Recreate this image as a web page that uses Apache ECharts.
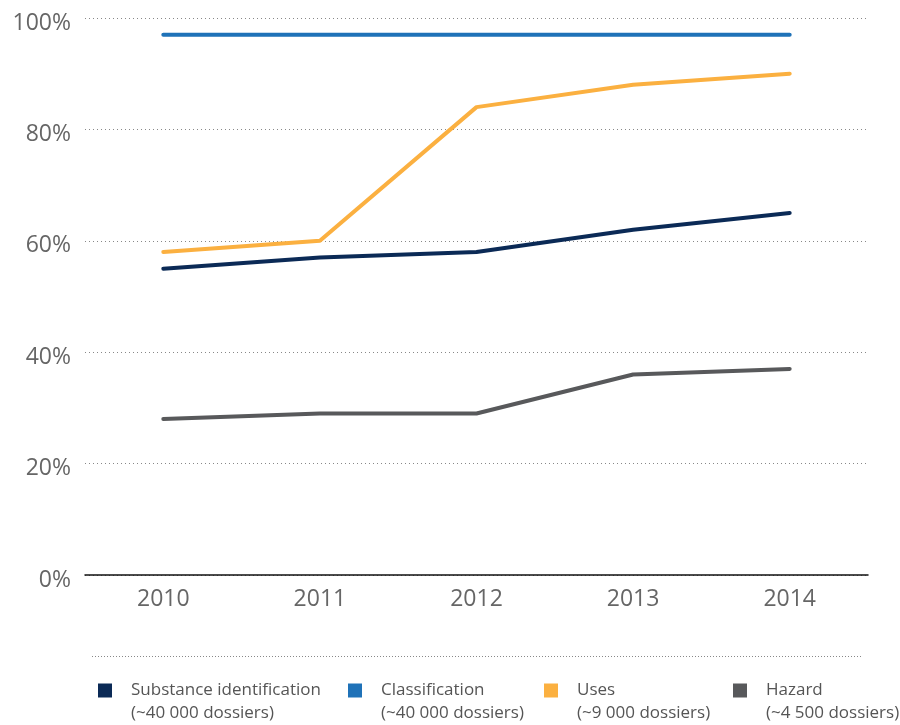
<!DOCTYPE html>
<html>
<head>
<meta charset="utf-8">
<script src="https://cdn.jsdelivr.net/npm/echarts@6/dist/echarts.min.js"></script>
<style>
html,body{margin:0;padding:0;background:#fff;}
#chart{width:900px;height:725px;}
</style>
</head>
<body>
<div id="chart"></div>
<script>
var years = ['2010', '2011', '2012', '2013', '2014'];
var seriesNames = ['Substance identification', 'Classification', 'Uses', 'Hazard'];
var seriesSubLabels = ['(~40 000 dossiers)', '(~40 000 dossiers)', '(~9 000 dossiers)', '(~4 500 dossiers)'];
var substanceIdentification = [55, 57, 58, 62, 65];
var classification = [97, 97, 97, 97, 97];
var uses = [58, 60, 84, 88, 90];
var hazard = [28, 29, 29, 36, 37];
var yTicks = [0, 20, 40, 60, 80, 100];

var colors = ['#0b2a56', '#1f72b8', '#fbb040', '#58595b'];
var legendLeft = [98, 348, 544, 733];
var font = '"Open Sans", "Noto Sans", sans-serif';
var seriesData = [substanceIdentification, classification, uses, hazard];

var chart = echarts.init(document.getElementById('chart'), null, {renderer: 'canvas'});

var legends = seriesNames.map(function (name, i) {
  return {
    data: [name],
    left: legendLeft[i],
    top: 656,
    padding: 0,
    orient: 'horizontal',
    icon: 'rect',
    itemWidth: 14,
    itemHeight: 14,
    selectedMode: false,
    formatter: function (n) {
      return ' \n' + n + '\n' + seriesSubLabels[seriesNames.indexOf(n)];
    },
    textStyle: {
      fontFamily: font,
      fontSize: 17,
      color: '#555',
      lineHeight: 23,
      padding: [0, 0, 0, 14]
    }
  };
});

chart.setOption({
  animation: false,
  color: colors,
  grid: {left: 85, right: 32, top: 18, bottom: 150, containLabel: false},
  legend: legends,
  xAxis: {
    type: 'category',
    data: years,
    boundaryGap: true,
    axisLine: {show: true, lineStyle: {color: '#111', width: 1.5}},
    axisTick: {show: false},
    axisLabel: {fontFamily: font, fontSize: 23, color: '#666', margin: 13},
    splitLine: {show: false}
  },
  yAxis: {
    type: 'value',
    min: yTicks[0],
    max: yTicks[yTicks.length - 1],
    interval: 20,
    axisLine: {show: false},
    axisTick: {show: false},
    axisLabel: {fontFamily: font, fontSize: 23, color: '#666', margin: 14, verticalAlign: 'top', lineHeight: 10, formatter: '{value}%'},
    splitLine: {show: true, lineStyle: {color: '#888', type: [1, 3], width: 1}}
  },
  graphic: [{
    type: 'line',
    shape: {x1: 92, y1: 656.5, x2: 862, y2: 656.5},
    style: {stroke: '#888', lineWidth: 1, lineDash: [1, 2]}
  }],
  series: seriesNames.map(function (name, i) {
    return {
      name: name,
      type: 'line',
      data: seriesData[i],
      showSymbol: false,
      symbol: 'none',
      lineStyle: {width: 4, color: colors[i], cap: 'round'},
      itemStyle: {color: colors[i]}
    };
  })
});
</script>
</body>
</html>
